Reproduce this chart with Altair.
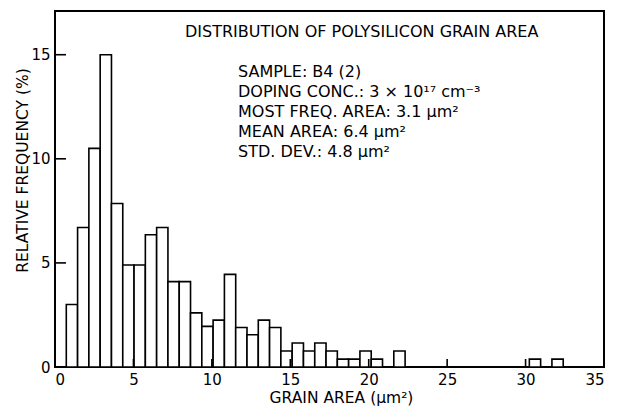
import altair as alt
import pandas as pd

# Histogram of polysilicon grain areas, bins 0.72 um^2 wide
bin_left = [0.72, 1.44, 2.16, 2.88, 3.60, 4.32, 5.04, 5.76, 6.48, 7.20,
            7.92, 8.64, 9.36, 10.08, 10.80, 11.52, 12.24, 12.96, 13.68, 14.40,
            15.12, 15.84, 16.56, 17.28, 18.00, 18.72, 19.44, 20.16, 21.60,
            30.24, 31.68]
frequency = [3.0, 6.7, 10.5, 15.0, 7.85, 4.9, 4.9, 6.35, 6.7, 4.1,
             4.1, 2.6, 1.95, 2.25, 4.45, 1.9, 1.55, 2.25, 1.9, 0.77,
             1.15, 0.77, 1.15, 0.77, 0.38, 0.38, 0.77, 0.38, 0.77,
             0.38, 0.38]
BIN_WIDTH = 0.72

x_ticks = [0, 5, 10, 15, 20, 25, 30, 35]
y_ticks = [0, 5, 10, 15]

title_text = "DISTRIBUTION OF POLYSILICON GRAIN AREA"
info_lines = [
    "SAMPLE: B4 (2)",
    "DOPING CONC.: 3 \u00d7 10\u00b9\u2077 cm\u207b\u00b3",
    "MOST FREQ. AREA: 3.1 \u03bcm\u00b2",
    "MEAN AREA: 6.4 \u03bcm\u00b2",
    "STD. DEV.: 4.8 \u03bcm\u00b2",
]

FONT = "DejaVu Sans"
W, H = 549, 356

bars_df = pd.DataFrame({
    "left": bin_left,
    "right": [b + BIN_WIDTH for b in bin_left],
    "freq": frequency,
})

x_scale = alt.Scale(domain=[0, 35], nice=False, zero=False)
y_scale = alt.Scale(domain=[0, 17.1], nice=False)

bars = alt.Chart(bars_df).mark_rect(
    fill="white", stroke="black", strokeWidth=1.6
).encode(
    x=alt.X("left:Q", scale=x_scale,
            axis=alt.Axis(values=x_ticks, title="GRAIN AREA (\u03bcm\u00b2)",
                          grid=False, ticks=False, domain=False,
                          labelPadding=5, labelFontSize=15, labelFont=FONT,
                          labelColor="black", titleFont=FONT, titleFontSize=15.5,
                          titleFontWeight="normal", titleColor="black",
                          titleX=286, titleY=30, titleBaseline="middle")),
    x2="right:Q",
    y=alt.Y("freq:Q", scale=y_scale,
            axis=alt.Axis(values=y_ticks, title="RELATIVE FREQUENCY (%)",
                          grid=False, ticks=False, domain=False,
                          labelPadding=5, labelFontSize=15, labelFont=FONT,
                          labelColor="black", titleFont=FONT, titleFontSize=15.5,
                          titleFontWeight="normal", titleColor="black",
                          titleX=-33, titleY=159, titleBaseline="middle")),
    y2=alt.datum(0),
)

# inward tick marks
xt = alt.Chart(pd.DataFrame({"t": x_ticks[1:-1]})).mark_rule(
    color="black", strokeWidth=1.6
).encode(x=alt.X("t:Q", scale=x_scale), y=alt.value(H), y2=alt.value(H - 8))

yt = alt.Chart(pd.DataFrame({"v": y_ticks[1:]})).mark_rule(
    color="black", strokeWidth=1.6
).encode(y=alt.Y("v:Q", scale=y_scale), x=alt.value(0), x2=alt.value(11))

texts = [
    alt.Chart(pd.DataFrame({"s": [title_text]})).mark_text(
        align="left", baseline="middle", font=FONT, fontSize=16, color="black"
    ).encode(text="s:N", x=alt.value(130), y=alt.value(21))
]
for i, line in enumerate(info_lines):
    texts.append(
        alt.Chart(pd.DataFrame({"s": [line]})).mark_text(
            align="left", baseline="middle", font=FONT, fontSize=16, color="black"
        ).encode(text="s:N", x=alt.value(183), y=alt.value(61 + 20 * i))
    )

chart = alt.layer(bars, xt, yt, *texts).properties(
    width=W, height=H,
    autosize=alt.AutoSizeParams(type="none"),
    padding={"left": 55, "top": 11, "right": 15, "bottom": 45},
    background="white",
).configure_view(stroke="black", strokeWidth=2)

chart.save("out.html", embed_options={"renderer": "svg", "actions": False})
